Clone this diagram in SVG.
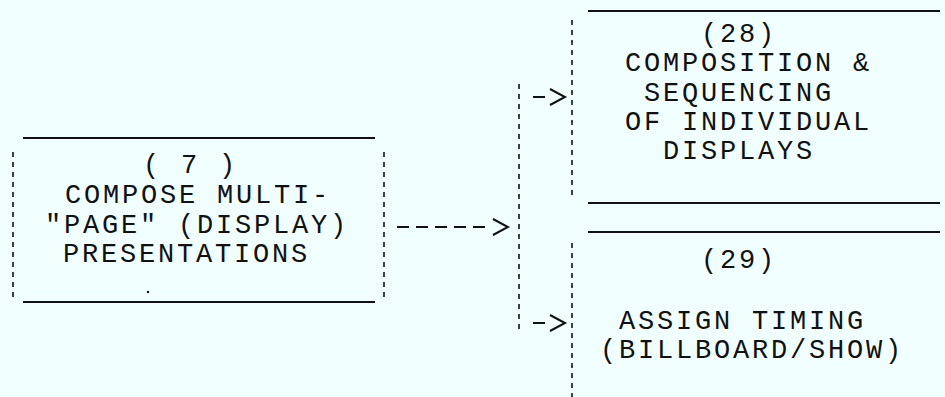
<svg xmlns="http://www.w3.org/2000/svg" width="945" height="397" viewBox="0 0 945 397">
<style>
  text { font-family: "Liberation Mono", "DejaVu Sans Mono", monospace; font-size: 27px; letter-spacing: 2.8px; fill: #111; }
  .hl { stroke: #111; stroke-width: 2; fill: none; }
  .vd { stroke: #111; stroke-width: 1.6; stroke-dasharray: 5 5; fill: none; }
  .ar { stroke: #111; stroke-width: 2; fill: none; }
</style>
<rect width="945" height="397" fill="#F0FEFE"/>

<g id="node7">
  <line class="hl" x1="23" y1="138" x2="375" y2="138"/>
  <line class="hl" x1="23" y1="302" x2="375" y2="302"/>
  <line class="vd" x1="13" y1="152" x2="13" y2="300"/>
  <line class="vd" x1="384" y1="152" x2="384" y2="300"/>
  <text x="143" y="173">( 7 )</text>
  <text x="65" y="203">COMPOSE MULTI-</text>
  <text x="45" y="233">"PAGE" (DISPLAY)</text>
  <text x="63" y="262">PRESENTATIONS</text>
  <circle cx="148" cy="292" r="1.2" fill="#111"/>
</g>

<g id="node28">
  <line class="hl" x1="588" y1="11" x2="940" y2="11"/>
  <line class="hl" x1="588" y1="203" x2="940" y2="203"/>
  <line class="vd" x1="572" y1="20" x2="572" y2="200"/>
  <text x="701" y="42">(28)</text>
  <text x="625" y="71">COMPOSITION &amp;</text>
  <text x="644" y="101">SEQUENCING</text>
  <text x="625" y="130">OF INDIVIDUAL</text>
  <text x="663" y="159">DISPLAYS</text>
</g>

<g id="node29">
  <line class="hl" x1="588" y1="232" x2="940" y2="232"/>
  <line class="vd" x1="572" y1="243" x2="572" y2="397"/>
  <text x="701" y="268">(29)</text>
  <text x="619" y="329">ASSIGN TIMING</text>
  <text x="600" y="358">(BILLBOARD/SHOW)</text>
</g>

<g id="connectors">
  <path class="ar" d="M397 227 H488" stroke-dasharray="12 7"/>
  <path class="ar" d="M493 219 L508 227 L493 235"/>
  <line class="vd" x1="519" y1="84" x2="519" y2="333"/>
  <path class="ar" d="M533 97 H545"/>
  <path class="ar" d="M550 89 L565 97 L550 105"/>
  <path class="ar" d="M533 323 H545"/>
  <path class="ar" d="M550 315 L565 323 L550 331"/>
</g>
</svg>
